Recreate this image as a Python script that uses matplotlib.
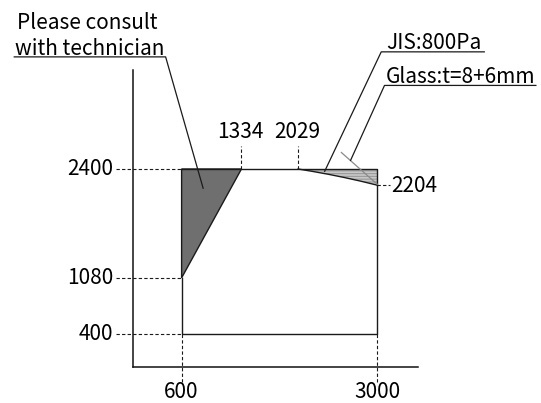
import matplotlib
matplotlib.use("Agg")
import matplotlib.pyplot as plt
from matplotlib.patches import Polygon

plt.rcParams['font.family'] = ['Noto Sans CJK JP', 'DejaVu Sans']
plt.rcParams['hatch.color'] = '#9a9a9a'
plt.rcParams['hatch.linewidth'] = 0.8

# ---- data ----
width_min, width_max = 600, 3000
height_min, height_max = 400, 2400
consult_top_x = 1334          # top edge of "consult" zone
consult_left_y = 1080         # left edge of "consult" zone
jis_start_x = 2029            # where JIS limit curve starts
jis_end_y = 2204              # JIS limit at max width
jis_curve_x = [2029, 2200, 2400, 2600, 2800, 3000]
jis_curve_y = [2400, 2372, 2336, 2296, 2252, 2204]
y_tick_values = [2400, 1080, 400]
x_tick_values = [600, 3000]
top_labels = [1334, 2029]
texts_consult = ["Please consult", "with technician"]
text_jis = "JIS:800Pa"
text_glass = "Glass:t=8+6mm"

FS = 15
fig = plt.figure(figsize=(5.41, 4.03), dpi=100)
ax = fig.add_axes([132.7 / 541, 36 / 403, 285.3 / 541, 297 / 403])
ax.set_xlim(0, 3500)
ax.set_ylim(0, 3600)
for s in ['top', 'right']:
    ax.spines[s].set_visible(False)
for s in ['left', 'bottom']:
    ax.spines[s].set_linewidth(1.1)
    ax.spines[s].set_color('#111111')
ax.set_xticks([])
ax.set_yticks([])

lc = '#1a1a1a'
dash = dict(color=lc, lw=0.8, ls=(0, (3, 2)), clip_on=False)

# dark consult triangle
tri = Polygon([(width_min, height_max), (consult_top_x, height_max), (width_min, consult_left_y)],
              closed=True, facecolor='#6f6f6f', edgecolor=lc, lw=1.0)
ax.add_patch(tri)

# JIS region (light gray hatched)
ax.fill_between(jis_curve_x, jis_curve_y, [height_max] * len(jis_curve_x),
                facecolor='#c8c8c8', edgecolor='#9a9a9a', hatch='------', lw=0)
ax.plot(jis_curve_x, jis_curve_y, color=lc, lw=1.0)

# box outline
ax.plot([width_min, width_min, width_max, width_max],
        [consult_left_y, height_min, height_min, jis_end_y], color=lc, lw=1.0)
ax.plot([width_min, width_max, width_max], [height_max, height_max, jis_end_y], color=lc, lw=1.0)

# thin gray glass line
ax.plot([2560, 3000], [2600, 2215], color='#8a8a8a', lw=0.9, clip_on=False)

# dashed guides to y labels
for v in y_tick_values:
    ax.plot([-200, width_min], [v, v], **dash)
    ax.text(-235, v, str(v), ha='right', va='center', fontsize=FS, clip_on=False)
# dashed guides to x labels
for v in x_tick_values:
    ax.plot([v, v], [-180, height_min], **dash)
    ax.text(v, -300, str(v), ha='center', va='center', fontsize=FS, clip_on=False)
# top labels
for v in top_labels:
    ax.plot([v, v], [height_max, 2680], **dash)
    ax.text(v - 15, 2850, str(v), ha='center', va='center', fontsize=FS, clip_on=False)
# right label
ax.plot([width_max, 3160], [jis_end_y, jis_end_y], **dash)
ax.text(3175, jis_end_y - 15, str(jis_end_y), ha='left', va='center', fontsize=FS, clip_on=False)

# annotations
# Please consult
ax.text(-1420, 4170, texts_consult[0], ha='left', va='center', fontsize=FS, clip_on=False)
ax.text(-1450, 3850, texts_consult[1], ha='left', va='center', fontsize=FS, clip_on=False)
ax.plot([-1453, 404, 864], [3759, 3759, 2167], color=lc, lw=0.9, clip_on=False)

# JIS
ax.text(3110, 3930, text_jis, ha='left', va='center', fontsize=FS, clip_on=False)
ax.plot([4313, 3049, 2355], [3820, 3820, 2372], color=lc, lw=0.9, clip_on=False)

# Glass
ax.text(3110, 3520, text_glass, ha='left', va='center', fontsize=FS, clip_on=False)
ax.plot([4946, 3089, 2673], [3413, 3413, 2505], color=lc, lw=0.9, clip_on=False)

fig.savefig('out.png', dpi=100)
